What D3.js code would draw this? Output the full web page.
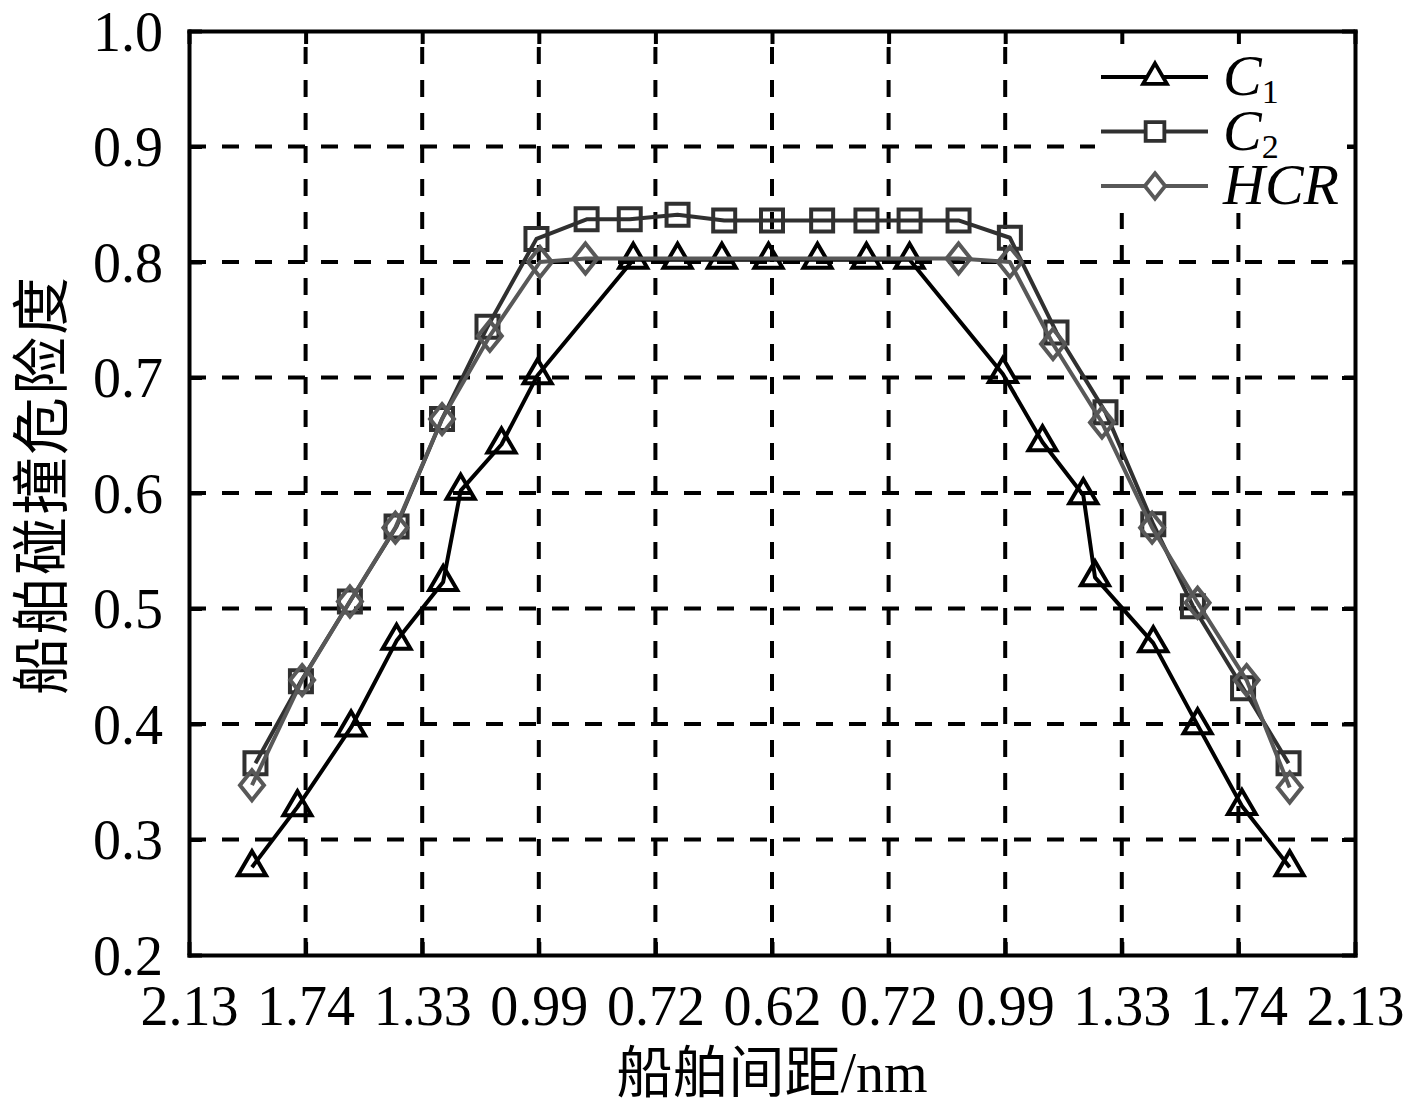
<!DOCTYPE html>
<html lang="zh">
	<head>
		<meta charset="utf-8">
		<title>船舶碰撞危险度</title>
		<style type="text/css">
			body {
				margin: 0;
				background-color: white;
			}
			svg {
				background-color: white;
			}
			.axis path,
			.axis line {
				fill: none;
				stroke: black;
				stroke-width: 4px;
			}
			.axis text {
				font-family: "Liberation Serif", "Times New Roman", serif;
				font-size: 56px;
				fill: black;
			}
			.grid line {
				stroke: black;
				stroke-width: 4px;
				stroke-dasharray: 17, 16;
			}
			.title {
				font-family: "Liberation Serif", "Noto Sans CJK SC", serif;
				fill: black;
			}
			.legend text {
				font-family: "Liberation Serif", "Times New Roman", serif;
				font-size: 58px;
				font-style: italic;
				fill: black;
			}
		</style>
	</head>
	<body>
	<script type="text/javascript" src="https://cdnjs.cloudflare.com/ajax/libs/d3/7.8.5/d3.min.js"></script>
	<script type="text/javascript">

		// tick labels along the x axis (ship distance, nm)
		var xTickLabels = ["2.13", "1.74", "1.33", "0.99", "0.72", "0.62", "0.72", "0.99", "1.33", "1.74", "2.13"];
		var yTicks = [0.2, 0.3, 0.4, 0.5, 0.6, 0.7, 0.8, 0.9, 1.0];

		// x positions are in tick-index units (0 = first label, 10 = last)
		var c1X = [0.54, 0.93, 1.39, 1.78, 2.18, 2.33, 2.68, 2.99, 3.81, 4.19, 4.57, 4.97, 5.39, 5.81, 6.18,
				   6.98, 7.32, 7.67, 7.77, 8.27, 8.65, 9.03, 9.44];
		var c1Y = [0.276, 0.328, 0.397, 0.472, 0.523, 0.602, 0.642, 0.702, 0.802, 0.802, 0.802, 0.802, 0.802, 0.802, 0.802,
				   0.703, 0.644, 0.598, 0.527, 0.470, 0.399, 0.329, 0.276];

		var c2X = [0.57, 0.96, 1.38, 1.78, 2.17, 2.56, 2.98, 3.41, 3.78, 4.19, 4.59, 5.00, 5.43, 5.81, 6.18,
				   6.60, 7.04, 7.44, 7.86, 8.27, 8.61, 9.04, 9.43];
		var c2Y = [0.366, 0.437, 0.506, 0.571, 0.664, 0.744, 0.820, 0.837, 0.837, 0.841, 0.836, 0.836, 0.836, 0.836, 0.836,
				   0.836, 0.821, 0.739, 0.670, 0.573, 0.502, 0.431, 0.366];

		var hcrX = [0.54, 0.97, 1.38, 1.77, 2.17, 2.58, 3.01, 3.40, 6.60, 7.04, 7.41, 7.83, 8.26, 8.65, 9.07, 9.44];
		var hcrY = [0.347, 0.438, 0.506, 0.570, 0.664, 0.736, 0.800, 0.803, 0.803, 0.800, 0.729, 0.661, 0.570, 0.505, 0.438, 0.345];

		var fullwidth = 1417;
		var fullheight = 1110;

		var margin = { top: 31, right: 62, bottom: 155, left: 189 };

		var width = fullwidth - margin.left - margin.right;
		var height = fullheight - margin.top - margin.bottom;

		var svg = d3.select("body")
				.append("svg")
				.attr("width", fullwidth)
				.attr("height", fullheight)
				.append("g")
				.attr("transform", "translate(" + margin.left + "," + margin.top + ")");

		var xScale = d3.scaleLinear()
				.domain([0, 10])
				.range([0, width]);

		var yScale = d3.scaleLinear()
				.domain([0.2, 1.0])
				.range([height, 0]);

		var xTicks = d3.range(xTickLabels.length);

		// dashed grid
		var grid = svg.append("g").attr("class", "grid");

		grid.selectAll("line.v")
			.data(xTicks.slice(1, -1))
			.enter()
			.append("line")
			.attr("class", "v")
			.attr("x1", function(d) { return xScale(d); })
			.attr("x2", function(d) { return xScale(d); })
			.attr("y1", height)
			.attr("y2", 0);

		grid.selectAll("line.h")
			.data(yTicks.slice(1, -1))
			.enter()
			.append("line")
			.attr("class", "h")
			.attr("x1", 0)
			.attr("x2", width)
			.attr("y1", function(d) { return yScale(d); })
			.attr("y2", function(d) { return yScale(d); });

		// series
		var series = [
			{ name: "C1", x: c1X, y: c1Y, color: "#000000", marker: "triangle" },
			{ name: "C2", x: c2X, y: c2Y, color: "#303030", marker: "square" },
			{ name: "HCR", x: hcrX, y: hcrY, color: "#585858", marker: "diamond" }
		];

		function markerPath(type) {
			if (type === "triangle") {
				return "M0,-16L14,8L-14,8Z";
			} else if (type === "square") {
				return "M-11,-11L11,-11L11,11L-11,11Z";
			} else {
				return "M0,-15L12,0L0,15L-12,0Z";
			}
		}

		var line = d3.line()
				.x(function(d) { return xScale(d[0]); })
				.y(function(d) { return yScale(d[1]); });

		series.forEach(function(s) {
			var pts = s.x.map(function(v, i) { return [v, s.y[i]]; });

			var g = svg.append("g").attr("class", "series");

			g.append("path")
				.datum(pts)
				.attr("d", line)
				.attr("fill", "none")
				.attr("stroke", s.color)
				.attr("stroke-width", 4)
				.attr("stroke-linejoin", "round");

			g.selectAll("path.marker")
				.data(pts)
				.enter()
				.append("path")
				.attr("class", "marker")
				.attr("d", markerPath(s.marker))
				.attr("transform", function(d) {
					return "translate(" + xScale(d[0]) + "," + yScale(d[1]) + ")";
				})
				.attr("fill", "none")
				.attr("stroke", s.color)
				.attr("stroke-width", 4);
		});

		// axes: labels on left and bottom, inward ticks all round
		var xAxis = d3.axisBottom(xScale)
				.tickValues(xTicks)
				.tickSizeInner(-13)
				.tickSizeOuter(0)
				.tickPadding(30)
				.tickFormat(function(d) { return xTickLabels[d]; });

		var yAxis = d3.axisLeft(yScale)
				.tickValues(yTicks)
				.tickSizeInner(-13)
				.tickSizeOuter(0)
				.tickPadding(26)
				.tickFormat(d3.format(".1f"));

		svg.append("g")
			.attr("class", "x axis")
			.attr("transform", "translate(0," + height + ")")
			.call(xAxis);

		svg.append("g")
			.attr("class", "y axis")
			.call(yAxis);

		svg.append("g")
			.attr("class", "axis")
			.call(d3.axisTop(xScale).tickValues(xTicks).tickSizeInner(-13).tickSizeOuter(0).tickFormat(""));

		svg.append("g")
			.attr("class", "axis")
			.attr("transform", "translate(" + width + ",0)")
			.call(d3.axisRight(yScale).tickValues(yTicks).tickSizeInner(-13).tickSizeOuter(0).tickFormat(""));

		svg.selectAll(".axis .domain")
			.attr("stroke-linecap", "square");

		svg.selectAll(".x.axis text")
			.attr("dy", "0.71em");

		svg.selectAll(".y.axis text")
			.attr("dy", "0.34em");

		// legend
		var legend = svg.append("g")
				.attr("class", "legend")
				.attr("transform", "translate(" + (1095 - margin.left) + "," + (47 - margin.top) + ")");

		legend.append("rect")
			.attr("width", 252)
			.attr("height", 166)
			.attr("fill", "white");

		series.forEach(function(s, i) {
			var ly = 30 + i * 54.5;

			legend.append("line")
				.attr("x1", 6)
				.attr("x2", 113)
				.attr("y1", ly)
				.attr("y2", ly)
				.attr("stroke", s.color)
				.attr("stroke-width", 4);

			legend.append("path")
				.attr("d", markerPath(s.marker))
				.attr("transform", "translate(60," + ly + ") scale(0.85)")
				.attr("fill", "white")
				.attr("stroke", s.color)
				.attr("stroke-width", 4.5);

			var t = legend.append("text")
				.attr("x", 128)
				.attr("y", ly + 18);

			if (s.name === "HCR") {
				t.text("HCR");
			} else {
				t.append("tspan").text("C");
				t.append("tspan")
					.attr("dy", 8)
					.style("font-style", "normal")
					.style("font-size", "34px")
					.text(s.name.slice(1));
			}
		});

		// axis titles
		svg.append("text")
			.attr("class", "title")
			.attr("x", width / 2)
			.attr("y", height + 118)
			.attr("dominant-baseline", "central")
			.style("text-anchor", "middle")
			.style("font-size", "56px")
			.text("船舶间距/nm");

		svg.append("text")
			.attr("class", "title")
			.attr("transform", "translate(" + (42 - margin.left) + "," + (485 - margin.top) + ") rotate(-90)")
			.attr("dominant-baseline", "central")
			.style("text-anchor", "middle")
			.style("font-size", "58px")
			.style("letter-spacing", "2px")
			.text("船舶碰撞危险度");

	</script>
	</body>
</html>
